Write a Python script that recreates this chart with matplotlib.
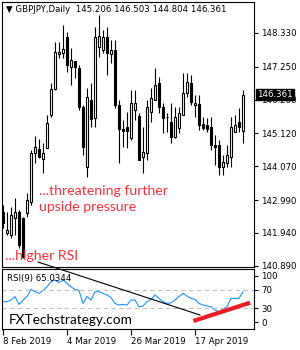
import matplotlib.pyplot as plt
from matplotlib.patches import Rectangle
from matplotlib.transforms import blended_transform_factory

# GBPJPY daily candles, 8 Feb 2019 onwards
opens = [142.610, 141.940, 141.876, 142.419, 142.610, 142.419, 142.578, 142.930, 144.496, 144.623,
         144.304, 144.655, 145.710, 146.540, 147.659, 147.691, 148.202, 147.243, 147.435, 147.211,
         145.965, 144.048, 146.189, 145.614, 147.882, 147.787, 148.202, 147.659, 147.787, 146.029,
         145.262, 145.326, 144.975, 145.870, 145.678, 144.368, 144.496, 145.806, 146.189, 146.732,
         145.965, 145.646, 145.486, 145.007, 145.294, 145.710, 146.413, 146.732, 146.029, 146.061,
         145.422, 145.390, 145.326, 144.751, 144.751, 144.048, 144.176, 144.368, 145.167, 145.486,
         145.206]
highs = [142.834, 142.610, 142.770, 143.058, 142.674, 142.451, 143.218, 144.591, 145.039, 144.943,
         144.815, 145.710, 146.732, 148.042, 148.042, 148.585, 148.362, 147.850, 147.435, 147.307,
         146.029, 146.572, 146.732, 148.521, 148.905, 148.426, 148.521, 148.106, 148.106, 146.189,
         145.550, 145.806, 146.509, 146.509, 145.774, 145.326, 146.189, 146.572, 147.211, 146.924,
         146.093, 145.774, 146.093, 145.965, 145.965, 147.052, 147.052, 146.988, 146.349, 146.349,
         145.646, 145.614, 145.646, 145.071, 144.911, 144.432, 144.751, 145.646, 145.710, 145.933,
         146.503]
lows = [142.099, 141.876, 141.780, 141.876, 141.460, 141.141, 142.451, 142.834, 144.176, 144.336,
        143.857, 144.655, 145.646, 146.509, 147.531, 147.531, 147.084, 146.668, 146.892, 145.870,
        144.432, 143.729, 145.326, 145.326, 147.563, 147.691, 146.988, 147.371, 145.933, 144.176,
        144.687, 144.655, 144.911, 145.550, 144.272, 143.857, 144.272, 145.486, 146.189, 145.774,
        145.135, 145.167, 144.815, 144.975, 145.135, 145.710, 146.285, 146.029, 145.646, 145.231,
        145.231, 145.167, 144.591, 144.112, 143.793, 143.793, 144.048, 144.048, 145.167, 145.167,
        144.804]
closes = [142.259, 142.036, 142.515, 142.610, 141.556, 141.173, 142.994, 144.496, 144.687, 144.368,
          144.496, 145.454, 146.540, 147.723, 147.723, 147.819, 147.307, 147.467, 147.243, 145.965,
          144.687, 146.285, 145.582, 148.202, 148.234, 148.202, 147.691, 147.787, 146.029, 145.262,
          145.199, 145.199, 146.093, 146.093, 144.272, 144.528, 145.965, 146.253, 146.668, 145.965,
          145.614, 145.630, 145.007, 145.646, 145.774, 146.413, 146.764, 146.125, 146.093, 145.390,
          145.294, 145.262, 144.751, 144.687, 144.048, 144.208, 144.432, 145.326, 145.390, 145.326,
          146.361]

rsi = [44, 44, 47.5, 55, 38, 47.5, 55, 70.5, 65.5, 62,
       68, 76, 87, 90.7, 85, 90.7, 83.5, 76, 70.5, 68,
       40, 55, 47.5, 65.5, 65.5, 62, 58.5, 53, 40, 36.7,
       38, 36.7, 47.5, 47.5, 33, 34.5, 44, 49, 58.5, 51,
       44, 40, 41.5, 47.5, 55, 62, 56, 51, 49, 40,
       36.7, 34.5, 33, 26, 22, 27.5, 33, 51, 51, 51, 65.0344]

price_ticks = [148.330, 147.250, 146.200, 145.120, 144.070, 142.990, 141.940, 140.890]
rsi_ticks = [100, 70, 30, 0]
date_pos = [0, 16, 32, 48]
date_labels = ["8 Feb 2019", "4 Mar 2019", "26 Mar 2019", "17 Apr 2019"]

# trend lines drawn on the RSI window (bar index, RSI value)
black_line = ([8.75, 49.25], [129.6, 15.1])
red_line = ([47.6, 61.75], [2.2, 41.7])

SMALL = 6.2
RED = "#f2333d"

fig = plt.figure(figsize=(3, 3.5), dpi=100)
ax = fig.add_axes([2 / 300, 1 - 267 / 350, 252 / 300, 265 / 350])
ax2 = fig.add_axes([2 / 300, 1 - 329 / 350, 252 / 300, 60 / 350])

# candles
for i, (o, h, l, c) in enumerate(zip(opens, highs, lows, closes)):
    ax.vlines(i, l, h, color="black", lw=0.8, zorder=2)
    lo, hi = min(o, c), max(o, c)
    fc = "white" if c >= o else "black"
    ax.add_patch(Rectangle((i - 0.34, lo), 0.68, max(hi - lo, 0.012),
                           fc=fc, ec="black", lw=0.8, zorder=3))

ax.set_xlim(-0.25, 62.75)
ax.set_ylim(140.853, 149.32)
ax.set_xticks([])
ax.yaxis.tick_right()
ax.set_yticks(price_ticks)
ax.set_yticklabels([f"{v:.3f}" for v in price_ticks])
ax.tick_params(axis="y", length=3, width=0.8, pad=2, labelsize=SMALL)
for s in ax.spines.values():
    s.set_linewidth(0.8)

# last price box (covers the 146.200 label, as on the terminal)
tr = blended_transform_factory(ax.transAxes, ax.transData)
ax.text(1.012, closes[-1], f"{closes[-1]:.3f}", transform=tr, fontsize=SMALL,
        color="white", va="center", ha="left", zorder=5,
        bbox=dict(boxstyle="square,pad=0.15", fc="black", ec="black"))

ax.text(9, 143.03, "...threatening further\nupside pressure", color=RED,
        family="Lato", fontsize=10.2, va="center", ha="left", linespacing=1.4)
ax.text(0.4, 141.2, "...higher RSI", color=RED, family="Lato", fontsize=10.2,
        va="center", ha="left")

# RSI window
ax2.plot(range(len(rsi)), rsi, color="#1e90ff", lw=0.8)
ax2.axhline(70, color="#c0c0c0", lw=0.8, ls=(0, (4, 3)))
ax2.axhline(30, color="#c0c0c0", lw=0.8, ls=(0, (4, 3)))
ax2.plot(*black_line, color="black", lw=0.8, clip_on=False, zorder=4)
ax2.plot(*red_line, color="#ee1c25", lw=3, solid_capstyle="butt", zorder=4)
ax2.set_xlim(-0.25, 62.75)
ax2.set_ylim(-15.1, 114.5)
ax2.yaxis.tick_right()
ax2.set_yticks(rsi_ticks)
ax2.tick_params(axis="y", length=3, width=0.8, pad=2, labelsize=SMALL)
ax2.set_xticks(date_pos)
ax2.set_xticklabels(date_labels, ha="left")
ax2.tick_params(axis="x", length=4, width=0.8, pad=2, labelsize=SMALL)
for s in ax2.spines.values():
    s.set_linewidth(0.8)
ax2.text(0.02, 0.91, f"RSI(9) {rsi[-1]:.4f}", transform=ax2.transAxes,
         fontsize=SMALL, va="top", ha="left")
ax2.text(0.025, 0.15, "FXTechstrategy.com", transform=ax2.transAxes,
         family="Lato", fontsize=9.8, va="center", ha="left")

fig.text(6 / 300, 1 - 10 / 350,
         f"\u25bc GBPJPY,Daily  {opens[-1]:.3f} {highs[-1]:.3f} {lows[-1]:.3f} {closes[-1]:.3f}",
         fontsize=SMALL, va="center", ha="left")

fig.savefig("out.png", dpi=100)
